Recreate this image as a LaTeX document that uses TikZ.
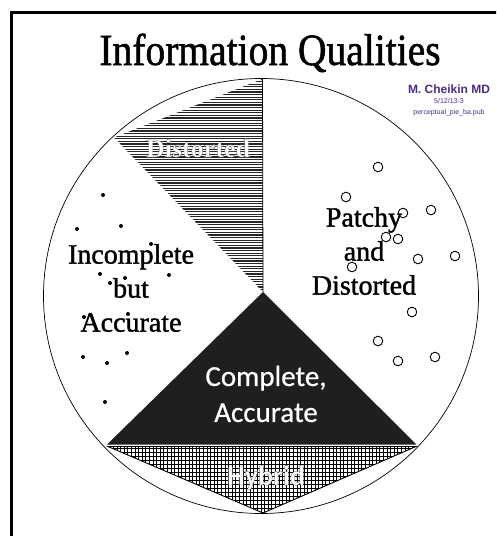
\documentclass[tikz,border=0pt]{standalone}
\usepackage{fontspec}
\setmainfont{Liberation Serif}
\newfontfamily\titlefont{Liberation Serif}[FakeBold=1.2]
\newfontfamily\labelfont{Liberation Serif}[FakeBold=1.4]
\newfontfamily\edgefont{Liberation Serif Bold}[FakeBold=0.7]
\newfontfamily\humsans{Carlito}[FakeBold=0.6]
\newfontfamily\humsansedge{Carlito Bold}[FakeBold=0.7]
\newfontfamily\arialfont{Liberation Sans}
\definecolor{authorpurple}{HTML}{4B2D8C}
% white letters whose outline stroke is dark
\newcommand{\darkedge}{\special{pdf:code 0.2 G}}
\begin{document}
\begin{tikzpicture}[x=1pt,y=-1pt,
  seriflabel/.style={text=black, font=\labelfont\fontsize{28}{34}\selectfont, align=center, inner sep=0pt},
  whiteserif/.style={text=white, font=\edgefont\fontsize{26}{30}\selectfont, inner sep=0pt, anchor=base},
  sanslabel/.style={text=white, font=\humsans\fontsize{29}{36}\selectfont, align=center, inner sep=0pt},
  whitesans/.style={text=white, font=\humsansedge\fontsize{28}{34}\selectfont, inner sep=0pt, anchor=base},
  authortext/.style={text=authorpurple, inner sep=0pt, anchor=base},
  hatchline/.style={line width=1.3pt, black!85},
  gridline/.style={line width=0.6pt, black},
  dotmark/.style={fill=black, draw=none},
  ringmark/.style={draw=black, line width=0.9pt, fill=none}]

\useasboundingbox (0,0) rectangle (496,536);
\fill[white] (0,0) rectangle (496,536);

% outer frame, running off the page on the right and bottom
\begin{scope}
  \clip (0,0) rectangle (496,536);
  \draw[line width=3pt] (11.5,12) rectangle (600,640);
\end{scope}

% pie geometry
\coordinate (cc) at (261,296);
\coordinate (pc) at (263,292);
\coordinate (dtop) at (262.5,79);
\coordinate (dleft) at (114,137.5);
\coordinate (bl) at (107,444.5);
\coordinate (br) at (416.5,444.5);
\coordinate (hl) at (108,446.5);
\coordinate (hr) at (416,446.5);
\coordinate (hb) at (263,513);

% Distorted wedge: horizontal hatching
\begin{scope}
  \clip (pc) -- (dtop) -- (dleft) -- cycle;
  \foreach \yy in {79,81.6,...,294} \draw[hatchline] (100,\yy) -- (270,\yy);
\end{scope}
\draw[line width=0.8pt] (dtop) -- (pc);

% Complete, Accurate wedge
\fill[black!88] (pc) -- (bl) -- (br) -- cycle;

% Hybrid wedge: cross hatching
\begin{scope}
  \clip (hl) -- (hr) -- (hb) -- cycle;
  \foreach \xx in {106,109.6,...,420} \draw[gridline] (\xx,440) -- (\xx,520);
  \foreach \yy in {448,452,...,516} \draw[gridline] (100,\yy) -- (420,\yy);
\end{scope}
\draw[line width=0.9pt] (hl) -- (hr) -- (hb) -- cycle;

% outline of the pie
\draw[line width=0.7pt] (cc) circle[radius=217.5];

% dots of the Incomplete but Accurate wedge
\foreach \p in {(103,195),(77,229),(121,226),(151,244),(100,274),(125,278),
                (169,275),(110,283),(128,314),(84,317),(83,357),(107,363),
                (127,353),(105,402)}
  \fill[dotmark] \p circle[radius=2];

% rings of the Patchy and Distorted wedge
\foreach \p in {(378,167),(346,197),(403,213),(431,210),(386,237),(398,239),
                (418,259),(455,256),(352,267),(412,312),(378,341),(398,361),
                (435,357)}
  \draw[ringmark] \p circle[radius=4.8];

% title and author block
\node[anchor=base, inner sep=0pt, font=\titlefont\fontsize{39.5}{40}\selectfont] (title) at (270,65) {\scalebox{1}[1.13]{Information Qualities}};
\node[authortext, font=\arialfont\bfseries\fontsize{12}{12}\selectfont] (author) at (449,93) {M. Cheikin MD};
\node[authortext, font=\arialfont\fontsize{7}{7}\selectfont] (date) at (449,103) {5/12/13-3};
\node[authortext, font=\arialfont\fontsize{7}{7}\selectfont] (file) at (449,114) {perceptual\_pie\_ba.pub};

% wedge labels
\node[whiteserif] (distorted) at (198,157) {\darkedge Distorted};
\node[seriflabel] (patchy) at (364,251) {Patchy\\and\\Distorted};
\node[seriflabel] (incomplete) at (131,288) {Incomplete\\but\\Accurate};
\node[sanslabel] (complete) at (266,394) {Complete,\\Accurate};
\node[whitesans] (hybrid) at (266,485) {\darkedge Hybrid};

\end{tikzpicture}
\end{document}
